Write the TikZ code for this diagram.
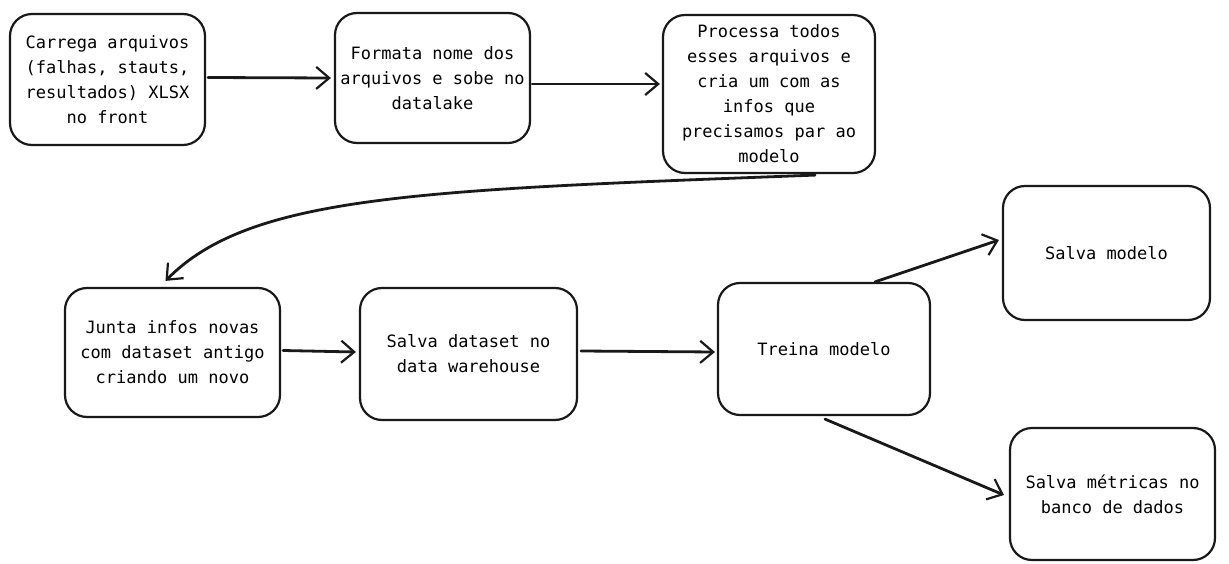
\documentclass[tikz,border=0pt]{standalone}
\usepackage{fontspec}
\setmainfont{DejaVu Sans Mono}
\usetikzlibrary{arrows.meta,calc}
\tikzset{
  box/.style={draw=black!90, line width=2.2pt, rounded corners=22pt, fill=white,
    align=center, inner sep=0pt, font=\fontsize{17}{25}\selectfont},
  conn/.style={draw=black!90, line width=2.8pt, line cap=round,
    -{Straight Barb[length=13pt,width=22pt,line width=2.2pt]}}
}
\begin{document}
\begin{tikzpicture}[x=1pt,y=-1pt]
\useasboundingbox (0,0) rectangle (1229,564);
\node[box, minimum width=195pt, minimum height=131pt] (A) at (107.5,79.5)
  {Carrega arquivos\\(falhas, stauts,\\resultados) XLSX\\no front};
\node[box, minimum width=195pt, minimum height=130pt] (B) at (432.5,78)
  {Formata nome dos\\arquivos e sobe no\\datalake};
\node[box, minimum width=212pt, minimum height=158pt] (C) at (769,94)
  {Processa todos\\esses arquivos e\\cria um com as\\infos que\\precisamos par ao\\modelo};
\node[box, minimum width=215pt, minimum height=129pt] (D) at (172.5,352.5)
  {Junta infos novas\\com dataset antigo\\criando um novo};
\node[box, minimum width=217pt, minimum height=132pt] (E) at (468.5,354)
  {Salva dataset no\\data warehouse};
\node[box, minimum width=212pt, minimum height=132pt] (F) at (824,349)
  {Treina modelo};
\node[box, minimum width=207pt, minimum height=134pt] (G) at (1106.5,253)
  {Salva modelo};
\node[box, minimum width=205pt, minimum height=132pt] (H) at (1112.5,494)
  {Salva métricas no\\banco de dados};
\draw[conn] ($(A.east)+(2,-2)$) -- ($(B.west)+(-3,0)$);
\draw[conn] ($(B.east)+(1,6)$) -- ($(C.west)+(-2,-10)$);
\draw[conn] ($(C.south)+(46,1)$) .. controls (420,190) and (250,195) .. ($(D.north)+(-7,-6)$);
\draw[conn] ($(D.east)+(2,-2)$) -- ($(E.west)+(-3,-2)$);
\draw[conn] ($(E.east)+(3,-3)$) -- ($(F.west)+(-2,3)$);
\draw[conn] ($(F.north)+(51,0)$) -- ($(G.west)+(-3,-13)$);
\draw[conn] ($(F.south)+(1,3)$) -- ($(H.west)+(-5,1)$);
\end{tikzpicture}
\end{document}
